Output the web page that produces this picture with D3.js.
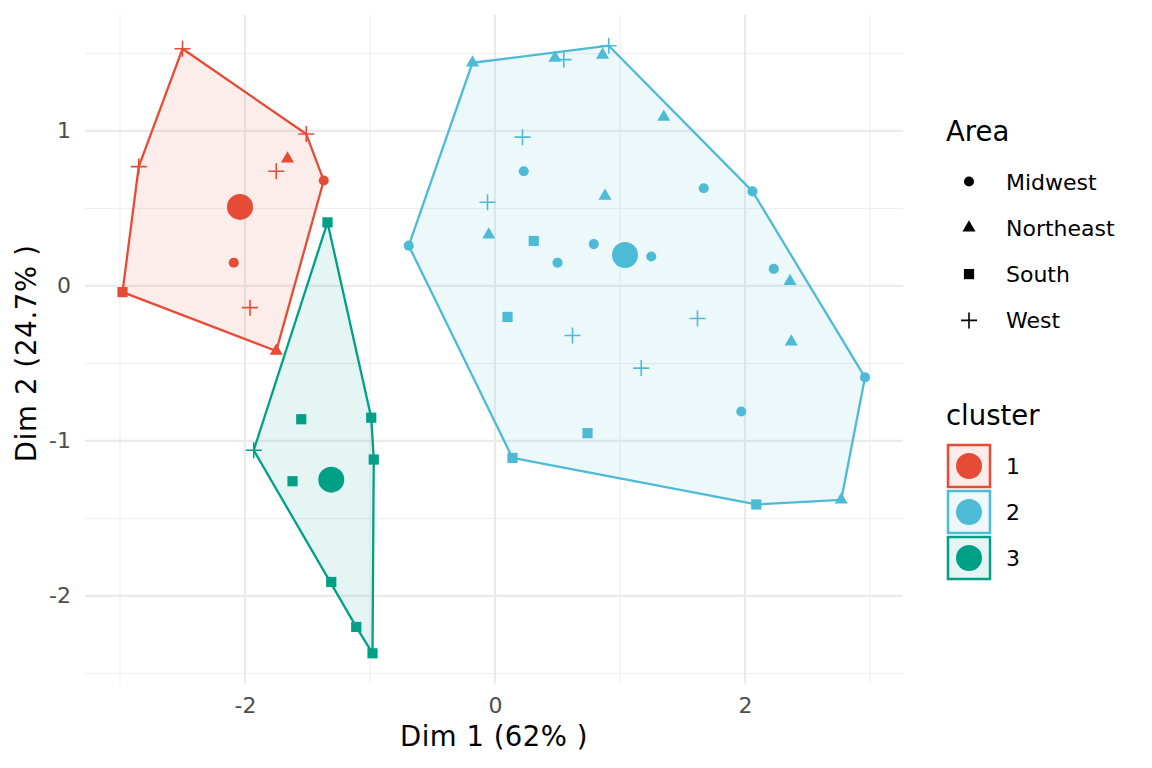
<!DOCTYPE html>
<html>
<head>
<meta charset="utf-8">
<script src="https://cdn.jsdelivr.net/npm/d3@7"></script>
<style>
    body { margin: 0; background: #fff; }
    text { font-family: "DejaVu Sans", sans-serif; }
</style>
</head>
<body>
<svg id="chart" width="1152" height="768"></svg>
<script>
'use strict';

// Dim 1 / Dim 2 coordinates per state
var dim1 = [
    // cluster 1
    -2.50, -1.51, -2.85, -1.66, -1.75, -1.37, -2.09, -2.98, -1.96, -1.75,
    // cluster 2
    -0.18, 0.48, 0.55, 0.86, 0.91, 1.35, 0.22, 0.23, -0.06, 0.88,
    -0.05, 0.31, 0.79, -0.69, 1.25, 0.50, 1.67, 2.06, 2.23, 2.36,
    0.10, 0.62, 1.17, 0.74, 0.14, 1.62, 2.37, 2.96, 1.97, 2.09, 2.77,
    // cluster 3
    -1.34, -1.55, -0.99, -1.93, -0.97, -1.62, -1.31, -1.11, -0.98
];
var dim2 = [
    1.53, 0.98, 0.77, 0.82, 0.74, 0.68, 0.15, -0.04, -0.14, -0.42,
    1.44, 1.47, 1.46, 1.49, 1.55, 1.09, 0.96, 0.74, 0.54, 0.58,
    0.33, 0.29, 0.27, 0.26, 0.19, 0.15, 0.63, 0.61, 0.11, 0.03,
    -0.20, -0.32, -0.53, -0.95, -1.11, -0.21, -0.36, -0.59, -0.81, -1.41, -1.38,
    0.41, -0.86, -0.85, -1.06, -1.12, -1.26, -1.91, -2.20, -2.37
];
var area = [
    "West", "West", "West", "Northeast", "West", "Midwest", "Midwest", "South", "West", "Northeast",
    "Northeast", "Northeast", "West", "Northeast", "West", "Northeast", "West", "Midwest", "West", "Northeast",
    "Northeast", "South", "Midwest", "Midwest", "Midwest", "Midwest", "Midwest", "Midwest", "Midwest", "Northeast",
    "South", "West", "West", "South", "South", "West", "Northeast", "Midwest", "Midwest", "South", "Northeast",
    "South", "South", "South", "West", "South", "South", "South", "South", "South"
];
var cluster = [
    "1", "1", "1", "1", "1", "1", "1", "1", "1", "1",
    "2", "2", "2", "2", "2", "2", "2", "2", "2", "2",
    "2", "2", "2", "2", "2", "2", "2", "2", "2", "2",
    "2", "2", "2", "2", "2", "2", "2", "2", "2", "2", "2",
    "3", "3", "3", "3", "3", "3", "3", "3", "3"
];

// cluster centers
var centerIds = ["1", "2", "3"];
var centerDim1 = [-2.04, 1.04, -1.31];
var centerDim2 = [0.51, 0.20, -1.25];

var areaNames = ["Midwest", "Northeast", "South", "West"];
var xMajorTicks = [-2, 0, 2];
var xMinorTicks = [-3, -1, 1, 3];
var yMajorTicks = [-2, -1, 0, 1];
var yMinorTicks = [-2.5, -1.5, -0.5, 0.5, 1.5];

var clusterColors = { "1": "#E64B35", "2": "#4DBBD5", "3": "#00A087" };

class ClusterPlotRenderer {
    constructor(svg) {
        this.svg = svg;
        this.panel = { left: 85, right: 903, top: 15, bottom: 683.5 };
        this.x = d3.scaleLinear().domain([-3.28, 3.264]).range([this.panel.left, this.panel.right]);
        this.y = d3.scaleLinear().domain([-2.565, 1.748]).range([this.panel.bottom, this.panel.top]);

        this.points = dim1.map(function(d, i) {
            return { x: d, y: dim2[i], area: area[i], cluster: cluster[i] };
        });
    }

    render() {
        this.renderGrid();
        this.renderAxes();
        this.renderHulls();
        this.renderPoints();
        this.renderCenters();
        this.renderAreaLegend();
        this.renderClusterLegend();
    }

    renderGrid() {
        var x = this.x, y = this.y, p = this.panel;
        var grid = this.svg.append("g").attr("class", "grid");

        grid.selectAll(".xminor").data(xMinorTicks).enter().append("line")
            .attr("x1", function(d) { return x(d); }).attr("x2", function(d) { return x(d); })
            .attr("y1", p.top).attr("y2", p.bottom)
            .style("stroke", "#EFEFEF").style("stroke-width", 1.1);
        grid.selectAll(".yminor").data(yMinorTicks).enter().append("line")
            .attr("y1", function(d) { return y(d); }).attr("y2", function(d) { return y(d); })
            .attr("x1", p.left).attr("x2", p.right)
            .style("stroke", "#EFEFEF").style("stroke-width", 1.1);
        grid.selectAll(".xmajor").data(xMajorTicks).enter().append("line")
            .attr("x1", function(d) { return x(d); }).attr("x2", function(d) { return x(d); })
            .attr("y1", p.top).attr("y2", p.bottom)
            .style("stroke", "#EBEBEB").style("stroke-width", 2.2);
        grid.selectAll(".ymajor").data(yMajorTicks).enter().append("line")
            .attr("y1", function(d) { return y(d); }).attr("y2", function(d) { return y(d); })
            .attr("x1", p.left).attr("x2", p.right)
            .style("stroke", "#EBEBEB").style("stroke-width", 2.2);
    }

    renderAxes() {
        var p = this.panel;
        var plainFormat = function(d) { return String(d); };

        var xAxis = this.svg.append("g")
            .attr("transform", "translate(0," + p.bottom + ")")
            .call(d3.axisBottom(this.x).tickValues(xMajorTicks).tickFormat(plainFormat)
                .tickSize(0).tickPadding(14));
        var yAxis = this.svg.append("g")
            .attr("transform", "translate(" + p.left + ",0)")
            .call(d3.axisLeft(this.y).tickValues(yMajorTicks).tickFormat(plainFormat)
                .tickSize(0).tickPadding(14));

        [xAxis, yAxis].forEach(function(axis) {
            axis.select(".domain").remove();
            axis.selectAll("text")
                .style("font-family", "DejaVu Sans")
                .style("font-size", "22px")
                .style("fill", "#4D4D4D");
        });

        this.svg.append("text")
            .attr("x", (p.left + p.right) / 2)
            .attr("y", 746)
            .attr("text-anchor", "middle")
            .style("font-size", "27.5px")
            .style("letter-spacing", "0.5px")
            .text("Dim 1 (62% )");

        this.svg.append("text")
            .attr("transform", "translate(36," + ((p.top + p.bottom) / 2 + 4) + ") rotate(-90)")
            .attr("text-anchor", "middle")
            .style("font-size", "27.5px")
            .style("letter-spacing", "0.7px")
            .text("Dim 2 (24.7% )");
    }

    renderHulls() {
        var x = this.x, y = this.y, points = this.points;

        var hulls = centerIds.map(function(id) {
            var pts = points.filter(function(d) { return d.cluster === id; })
                .map(function(d) { return [x(d.x), y(d.y)]; });
            return { id: id, hull: d3.polygonHull(pts) };
        });

        this.svg.append("g").selectAll("path")
            .data(hulls)
            .enter().append("path")
            .attr("d", function(d) { return "M" + d.hull.join("L") + "Z"; })
            .style("fill", function(d) { return clusterColors[d.id]; })
            .style("fill-opacity", 0.1)
            .style("stroke", function(d) { return clusterColors[d.id]; })
            .style("stroke-width", 2.3)
            .style("stroke-linejoin", "round");
    }

    drawShape(sel, areaName, color) {
        if (areaName === "West") {
            sel.append("path")
                .attr("d", "M-8,0H8M0,-8V8")
                .style("fill", "none")
                .style("stroke", color)
                .style("stroke-width", 1.6);
            return;
        }
        var symbols = {
            "Midwest": [d3.symbolCircle, 80],
            "Northeast": [d3.symbolTriangle, 74],
            "South": [d3.symbolSquare, 104]
        };
        var s = symbols[areaName];
        sel.append("path")
            .attr("d", d3.symbol().type(s[0]).size(s[1])())
            .style("fill", color);
    }

    renderPoints() {
        var x = this.x, y = this.y, self = this;

        var wrapper = this.svg.append("g").selectAll(".point")
            .data(this.points)
            .enter().append("g")
            .attr("class", "point")
            .attr("transform", function(d) { return "translate(" + x(d.x) + "," + y(d.y) + ")"; });

        wrapper.each(function(d) {
            self.drawShape(d3.select(this), d.area, clusterColors[d.cluster]);
        });
    }

    renderCenters() {
        var x = this.x, y = this.y;
        this.svg.append("g").selectAll("circle")
            .data(centerIds)
            .enter().append("circle")
            .attr("cx", function(d, i) { return x(centerDim1[i]); })
            .attr("cy", function(d, i) { return y(centerDim2[i]); })
            .attr("r", 13)
            .style("fill", function(d) { return clusterColors[d]; });
    }

    renderAreaLegend() {
        var self = this;
        var legend = this.svg.append("g");

        legend.append("text")
            .attr("x", 946).attr("y", 141)
            .style("font-size", "27.5px")
            .text("Area");

        var item = legend.selectAll(".areaItem")
            .data(areaNames)
            .enter().append("g")
            .attr("class", "areaItem")
            .attr("transform", function(d, i) { return "translate(969," + (181.5 + i * 46.3) + ")"; });

        item.each(function(d) {
            self.drawShape(d3.select(this), d, "#000");
        });

        item.append("text")
            .attr("x", 37).attr("y", 8)
            .style("font-size", "22px")
            .text(function(d) { return d; });
    }

    renderClusterLegend() {
        var legend = this.svg.append("g");

        legend.append("text")
            .attr("x", 946).attr("y", 425)
            .style("font-size", "27.5px")
            .text("cluster");

        var key = legend.selectAll(".clusterKey")
            .data(centerIds)
            .enter().append("g")
            .attr("class", "clusterKey")
            .attr("transform", function(d, i) { return "translate(969," + (466 + i * 46) + ")"; });

        key.append("rect")
            .attr("x", -21).attr("y", -21)
            .attr("width", 42).attr("height", 42)
            .style("fill", function(d) { return clusterColors[d]; })
            .style("fill-opacity", 0.1)
            .style("stroke", function(d) { return clusterColors[d]; })
            .style("stroke-width", 2.5);

        key.append("circle")
            .attr("r", 13)
            .style("fill", function(d) { return clusterColors[d]; });

        key.append("text")
            .attr("x", 37).attr("y", 8)
            .style("font-size", "22px")
            .text(function(d) { return d; });
    }
}

new ClusterPlotRenderer(d3.select("#chart")).render();
</script>
</body>
</html>
